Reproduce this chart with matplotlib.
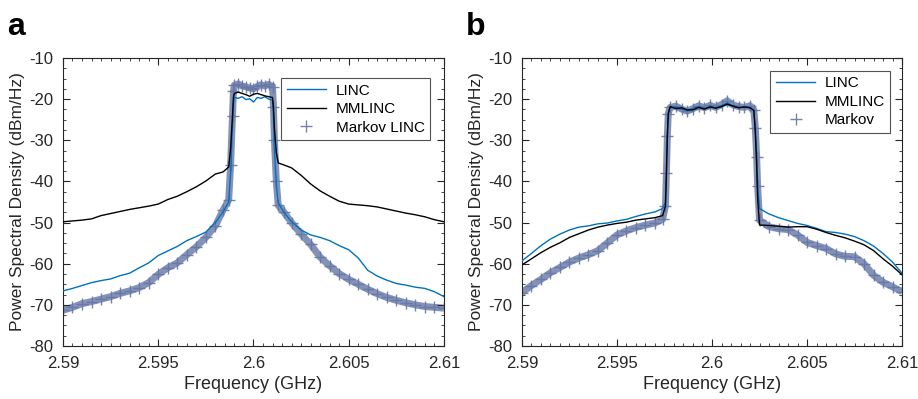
import numpy as np
import matplotlib
matplotlib.use("Agg")
import matplotlib.pyplot as plt
from matplotlib.ticker import MultipleLocator, FuncFormatter

plt.rcParams['font.family'] = ['Liberation Sans', 'DejaVu Sans']

# ---- panel a data (frequency in GHz, PSD in dBm/Hz) ----
freq_a = [2.5900, 2.5905, 2.5910, 2.5915, 2.5920, 2.5925, 2.5930, 2.5935, 2.5940,
          2.5945, 2.5950, 2.5955, 2.5960, 2.5965, 2.5970, 2.5975, 2.5980, 2.5984,
          2.5987, 2.5988, 2.5989, 2.59895,
          2.5990, 2.5992, 2.5994, 2.5996, 2.5998, 2.6000, 2.6002, 2.6004, 2.6006, 2.6008, 2.6010,
          2.60105, 2.6011, 2.6012, 2.6013,
          2.6016, 2.6020, 2.6025, 2.6030, 2.6035, 2.6040, 2.6045, 2.6050, 2.6055,
          2.6060, 2.6065, 2.6070, 2.6075, 2.6080, 2.6085, 2.6090, 2.6095, 2.6100]
linc_a = [-66.6, -66.0, -65.3, -64.6, -64.1, -63.7, -62.9, -62.3, -61.0,
          -59.8, -58.0, -56.9, -55.8, -54.4, -53.4, -52.3, -50.0, -47.4,
          -45.0, -38.0, -26.0, -21.0,
          -19.6, -19.8, -19.4, -20.1, -19.9, -20.7, -19.6, -19.8, -19.4, -20.0, -20.2,
          -24.0, -32.0, -41.0, -45.2,
          -47.5, -49.8, -51.8, -53.0, -53.6, -54.4, -55.6, -56.6, -58.6,
          -61.6, -63.0, -64.0, -64.8, -65.2, -65.7, -66.0, -66.8, -68.0]
mmlinc_a = [-49.8, -49.6, -49.4, -49.1, -48.3, -47.8, -47.3, -46.8, -46.4,
            -46.0, -45.5, -44.4, -43.6, -42.5, -41.3, -39.9, -38.2, -37.7,
            -36.5, -32.0, -24.0, -19.5,
            -18.6, -18.3, -18.6, -18.9, -19.3, -18.8, -18.6, -18.9, -19.2, -19.4, -19.6,
            -22.0, -27.0, -33.0, -35.5,
            -36.0, -36.7, -38.5, -40.6, -42.3, -43.6, -44.8, -45.5, -45.7,
            -45.9, -46.2, -46.7, -47.2, -47.7, -48.1, -48.6, -49.3, -49.8]
markov_a = [-71.3, -70.6, -69.7, -69.2, -68.6, -68.0, -67.2, -66.6, -65.8,
            -64.6, -62.6, -61.0, -59.8, -57.8, -55.9, -53.6, -50.8, -47.0,
            -44.5, -36.0, -24.0, -18.0,
            -16.6, -16.3, -16.8, -17.0, -17.3, -17.5, -16.9, -16.5, -16.8, -16.4, -17.0,
            -22.0, -30.0, -40.0, -45.8,
            -47.5, -50.0, -52.8, -55.3, -58.4, -60.5, -62.4, -63.8, -65.0,
            -66.2, -67.3, -68.2, -68.9, -69.5, -70.0, -70.4, -70.6, -70.8]

# ---- panel b data ----
freq_b = [2.5900, 2.5905, 2.5910, 2.5915, 2.5920, 2.5925, 2.5930, 2.5935,
          2.5940, 2.5945, 2.5950, 2.5955, 2.5960, 2.5965, 2.5970, 2.5974,
          2.59755, 2.5976, 2.59765, 2.5977,
          2.5978, 2.5981, 2.5984, 2.5987, 2.5990, 2.5993, 2.5996, 2.5999,
          2.6002, 2.6005, 2.6008, 2.6011, 2.6014, 2.6017, 2.6020, 2.6022,
          2.60228, 2.60235, 2.6024, 2.6025,
          2.6030, 2.6035, 2.6040, 2.6045, 2.6050, 2.6055, 2.6060, 2.6065,
          2.6070, 2.6075, 2.6080, 2.6085, 2.6090, 2.6095, 2.6100]
linc_b = [-59.3, -57.5, -55.6, -54.0, -52.8, -51.8, -51.1, -50.8,
          -50.3, -50.1, -49.6, -49.2, -48.5, -47.9, -47.4, -46.6,
          -45.0, -38.0, -29.0, -23.5,
          -22.0, -21.9, -22.4, -22.8, -22.2, -21.8, -22.3, -21.7,
          -22.1, -21.6, -20.9, -21.6, -22.0, -21.8, -22.0, -22.8,
          -27.0, -34.0, -41.0, -46.6,
          -47.9, -48.8, -49.5, -50.2, -50.7, -51.4, -52.2, -52.4,
          -52.8, -53.4, -54.4, -55.7, -57.5, -59.6, -62.3]
mmlinc_b = [-60.3, -58.8, -57.3, -56.0, -54.9, -53.6, -52.7, -51.8,
            -51.1, -50.6, -50.2, -49.9, -49.4, -49.1, -48.8, -48.3,
            -46.0, -38.0, -29.0, -23.5,
            -21.8, -22.3, -22.1, -22.6, -22.6, -22.0, -22.4, -21.9,
            -22.2, -21.8, -21.2, -21.7, -22.1, -21.9, -22.1, -22.7,
            -28.0, -36.0, -44.0, -50.6,
            -50.7, -50.9, -51.1, -51.0, -51.0, -51.6, -52.4, -53.1,
            -53.7, -54.5, -55.4, -56.8, -58.8, -60.6, -62.7]
markov_b = [-67.0, -65.3, -63.8, -62.2, -60.9, -59.6, -58.6, -57.8,
            -56.8, -54.9, -53.0, -52.0, -51.2, -50.6, -50.1, -49.2,
            -46.0, -38.0, -29.0, -23.5,
            -22.0, -21.7, -22.4, -22.9, -22.3, -21.6, -22.1, -21.5,
            -22.0, -21.3, -20.4, -21.4, -21.8, -22.0, -21.6, -22.6,
            -27.0, -34.0, -41.0, -49.4,
            -51.0, -51.5, -51.7, -53.0, -54.8, -55.6, -56.3, -57.6,
            -58.2, -58.3, -60.0, -62.8, -64.5, -65.6, -66.8]

blue = '#0072BD'
markov_col = '#6677A6'
grey = '#262626'


def tick_fmt(v, pos):
    return '%g' % round(v, 4)


def draw_panel(ax, f, linc, mml, mk, mk_label, leg_anchor):
    f = np.array(f)
    ax.plot(f, mk, color=markov_col, lw=5, alpha=0.8, zorder=1,
            solid_capstyle='butt')
    ax.plot(f, mk, ls='none', marker='+', ms=9, mew=1.0, color=markov_col,
            alpha=0.9, label=mk_label, zorder=2)
    ax.plot(f, linc, color=blue, lw=1.0, label='LINC', zorder=3)
    ax.plot(f, mml, color='black', lw=1.0, label='MMLINC', zorder=3)

    ax.set_xlim(2.59, 2.61)
    ax.set_ylim(-80, -10)
    ax.set_xticks([2.59, 2.595, 2.6, 2.605, 2.61])
    ax.set_yticks(np.arange(-80, -9, 10))
    ax.xaxis.set_major_formatter(FuncFormatter(tick_fmt))
    ax.yaxis.set_major_formatter(FuncFormatter(tick_fmt))
    ax.xaxis.set_minor_locator(MultipleLocator(0.0005))
    ax.yaxis.set_minor_locator(MultipleLocator(2.5))
    ax.tick_params(which='both', direction='in', top=True, right=True,
                   colors=grey, labelsize=12)
    ax.tick_params(which='major', length=5, width=0.8, pad=7)
    ax.tick_params(which='minor', length=2.5, width=0.6)
    for sp in ax.spines.values():
        sp.set_color(grey)
        sp.set_linewidth(0.8)
    ax.set_xlabel('Frequency (GHz)', fontsize=13, color=grey, labelpad=4)
    ax.set_ylabel('Power Spectral Density (dBm/Hz)', fontsize=12.5, color=grey, labelpad=3)

    h, l = ax.get_legend_handles_labels()
    order = [1, 2, 0]
    leg = ax.legend([h[i] for i in order], [l[i] for i in order],
                    loc='upper right', bbox_to_anchor=leg_anchor, borderaxespad=0,
                    fontsize=11, frameon=True, fancybox=False, borderpad=0.35,
                    handlelength=2.6, handletextpad=0.6, labelspacing=0.3)
    leg.get_frame().set_edgecolor(grey)
    leg.get_frame().set_linewidth(0.8)


fig = plt.figure(figsize=(9.18, 3.99), dpi=100)
ax_a = fig.add_axes([0.0686, 0.1328, 0.415, 0.7218])
ax_b = fig.add_axes([0.5686, 0.1328, 0.414, 0.7218])

draw_panel(ax_a, freq_a, linc_a, mmlinc_a, markov_a, 'Markov LINC', (0.963, 0.93))
draw_panel(ax_b, freq_b, linc_b, mmlinc_b, markov_b, 'Markov', (0.969, 0.955))

fig.text(0.008, 0.912, 'a', fontsize=23, fontweight='bold', va='baseline', ha='left')
fig.text(0.508, 0.912, 'b', fontsize=23, fontweight='bold', va='baseline', ha='left')

fig.savefig('out.png', dpi=100)
